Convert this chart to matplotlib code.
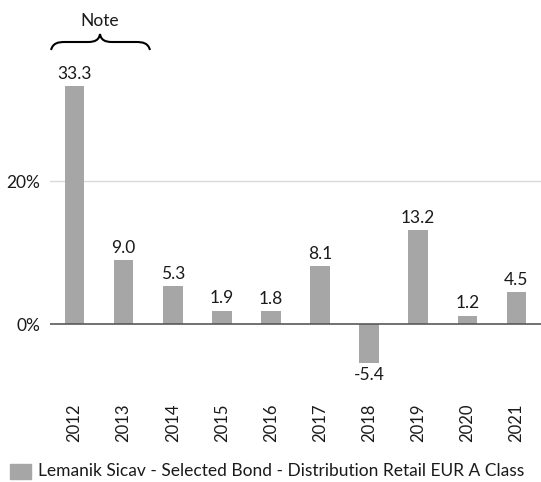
import matplotlib.pyplot as plt
from matplotlib.path import Path
from matplotlib.patches import PathPatch, Rectangle

plt.rcParams['font.family'] = ['Lato', 'DejaVu Sans']

# data
years = ['2012', '2013', '2014', '2015', '2016', '2017', '2018', '2019', '2020', '2021']
returns = [33.3, 9.0, 5.3, 1.9, 1.8, 8.1, -5.4, 13.2, 1.2, 4.5]
series_name = 'Lemanik Sicav - Selected Bond - Distribution Retail EUR A Class'

W, H = 541, 482
fig = plt.figure(figsize=(W / 100, H / 100), dpi=100)
ax = fig.add_axes([50 / W, 1 - 370 / H, 1 - 50 / W, (370 - 40) / H])

bar_color = '#a6a6a6'
txt_color = '#1a1a1a'
x = range(len(years))
ax.bar(x, returns, width=0.4, color=bar_color, zorder=3)

for i, v in enumerate(returns):
    if v >= 0:
        ax.annotate(f'{v:.1f}', (i, v), xytext=(0, 3), textcoords='offset points',
                    ha='center', va='bottom', fontsize=12.5, color=txt_color)
    else:
        ax.annotate(f'{v:.1f}', (i, v), xytext=(0, -3), textcoords='offset points',
                    ha='center', va='top', fontsize=12.5, color=txt_color)

ax.set_xlim(-0.5, 9.5)
ax.set_ylim(-6.4, 39.7)
ax.set_yticks([0, 20])
ax.set_yticklabels(['0%', '20%'], fontsize=12.5)
ax.set_xticks(list(x))
ax.set_xticklabels(years, rotation=90, fontsize=12)
ax.tick_params(axis='both', length=0, colors=txt_color)
ax.tick_params(axis='x', pad=24)
ax.tick_params(axis='y', pad=7)

ax.axhline(20, color='#d9d9d9', lw=1, zorder=1)
ax.axhline(0, color='#595959', lw=1.2, zorder=4)
for s in ax.spines.values():
    s.set_visible(False)

# brace + note above first bar
def px(xp, yp):
    return (xp / W, 1 - yp / H)

verts = [px(51, 50), px(53, 43), px(58, 42), px(65, 42),
         px(88, 42),
         px(95, 42), px(99, 40), px(100, 34),
         px(101, 40), px(105, 42), px(112, 42),
         px(136, 42),
         px(143, 42), px(148, 43), px(150, 50)]
codes = [Path.MOVETO, Path.CURVE4, Path.CURVE4, Path.CURVE4,
         Path.LINETO,
         Path.CURVE4, Path.CURVE4, Path.CURVE4,
         Path.CURVE4, Path.CURVE4, Path.CURVE4,
         Path.LINETO,
         Path.CURVE4, Path.CURVE4, Path.CURVE4]
fig.patches.append(PathPatch(Path(verts, codes), transform=fig.transFigure,
                             fill=False, lw=1.5, color='black'))
fig.text(100 / W, 1 - 21 / H, 'Note', ha='center', va='center', fontsize=12.5,
         color=txt_color)

# legend
fig.patches.append(Rectangle(px(10, 479), 21 / W, 15 / H, transform=fig.transFigure,
                             color=bar_color))
fig.text(38 / W, 1 - 471 / H, series_name, ha='left', va='center', fontsize=12.5,
         color=txt_color)

fig.savefig('out.png', dpi=100)
